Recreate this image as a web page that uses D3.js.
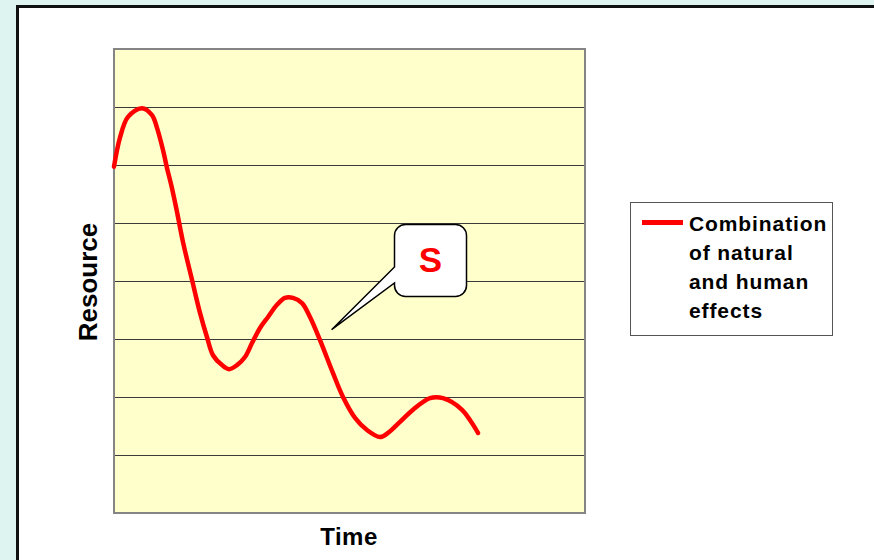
<!DOCTYPE html>
<html><head><meta charset="utf-8">
<script src="https://cdn.jsdelivr.net/npm/d3@7/dist/d3.min.js"></script>
<style>html,body{margin:0;padding:0;background:#ddf4f0;overflow:hidden}svg{display:block}</style>
</head><body>
<svg id="c" width="874" height="560"></svg>
<script>
// Data (time in arbitrary units 0..100, resource in grid units 0..8)
const time = [0,1.27,2.97,5.94,8.07,9.13,10.4,11.25,12.31,13.38,14.65,16.56,18.26,19.75,21.02,22.93,24.42,26.11,27.81,29.3,31.0,32.7,34.61,36.31,38.0,39.92,41.61,43.74,46.5,48.62,51.17,53.72,56.48,58.17,60.72,63.48,67.09,69.85,73.89,77.28];
const resource = [5.97,6.47,6.83,6.98,6.86,6.64,6.26,5.95,5.6,5.19,4.67,4.02,3.45,3.03,2.72,2.55,2.48,2.55,2.69,2.93,3.19,3.38,3.59,3.71,3.71,3.62,3.38,2.98,2.41,2.0,1.64,1.43,1.31,1.38,1.57,1.78,1.98,1.98,1.78,1.38];
const gridValues = [1,2,3,4,5,6,7];
const legendLines = ["Combination","of natural","and human","effects"];
const calloutText = "S";
const calloutAnchor = [46.2, 3.16]; // time, resource where the callout points

const svg = d3.select("#c");
// outer frame
svg.append("rect").attr("x",17.5).attr("y",6.5).attr("width",900).attr("height",600)
  .attr("fill","#fff").attr("stroke","#111").attr("stroke-width",3);

const L=114, R=585, T=49, B=513;
const x = d3.scaleLinear().domain([0,100]).range([L,R]);
const y = d3.scaleLinear().domain([0,8]).range([B,T]);

svg.append("rect").attr("x",L).attr("y",T).attr("width",R-L).attr("height",B-T)
  .attr("fill","#ffffcc");

svg.append("g").attr("transform",`translate(${L},0)`)
  .call(d3.axisLeft(y).tickValues(gridValues).tickSize(-(R-L)).tickFormat(""))
  .call(g=>g.select(".domain").remove())
  .call(g=>g.selectAll(".tick line").attr("stroke","#3a3a3a").attr("stroke-width",1).attr("shape-rendering","crispEdges"));

svg.append("rect").attr("x",L).attr("y",T).attr("width",R-L).attr("height",B-T)
  .attr("fill","none").attr("stroke","#858585").attr("stroke-width",2);

const data = time.map((t,i)=>[t,resource[i]]);
svg.append("path").datum(data)
  .attr("d", d3.line().x(d=>x(d[0])).y(d=>y(d[1])).curve(d3.curveCatmullRom))
  .attr("fill","none").attr("stroke","#ff0000").attr("stroke-width",4.5)
  .attr("stroke-linejoin","round").attr("stroke-linecap","round");

// axis titles
svg.append("text").attr("x",349).attr("y",545).attr("text-anchor","middle")
  .attr("font-family","Liberation Sans, Arial, sans-serif").attr("font-weight","bold")
  .attr("font-size",24).attr("letter-spacing",0.5).attr("fill","#000").text("Time");
svg.append("text").attr("transform","translate(97,282) rotate(-90)").attr("text-anchor","middle")
  .attr("font-family","Liberation Sans, Arial, sans-serif").attr("font-weight","bold")
  .attr("font-size",26).attr("fill","#000").text("Resource");

// callout
const tip=[x(calloutAnchor[0]), y(calloutAnchor[1])];
const bx=394.5, by=224.5, bw=72, bh=72, r=11, p1=267, p2=283;
const path = d3.path();
path.moveTo(bx+r,by);
path.lineTo(bx+bw-r,by); path.arcTo(bx+bw,by,bx+bw,by+r,r);
path.lineTo(bx+bw,by+bh-r); path.arcTo(bx+bw,by+bh,bx+bw-r,by+bh,r);
path.lineTo(bx+r,by+bh); path.arcTo(bx,by+bh,bx,by+bh-r,r);
path.lineTo(bx,p2); path.lineTo(tip[0],tip[1]); path.lineTo(bx,p1);
path.lineTo(bx,by+r); path.arcTo(bx,by,bx+r,by,r);
path.closePath();
svg.append("path").attr("d",path.toString()).attr("fill","#fff").attr("stroke","#000").attr("stroke-width",1.5);
svg.append("text").attr("x",bx+bw/2).attr("y",272).attr("text-anchor","middle")
  .attr("font-family","Liberation Sans, Arial, sans-serif").attr("font-weight","bold")
  .attr("font-size",35).attr("fill","#ff0000").text(calloutText);

// legend
svg.append("rect").attr("x",630.5).attr("y",202.5).attr("width",202).attr("height",133)
  .attr("fill","#fff").attr("stroke","#555").attr("stroke-width",1);
svg.append("line").attr("x1",642).attr("x2",683).attr("y1",222.5).attr("y2",222.5)
  .attr("stroke","#ff0000").attr("stroke-width",5);
svg.append("g").selectAll("text").data(legendLines).join("text")
  .attr("x",689).attr("y",(d,i)=>231+i*29)
  .attr("font-family","Liberation Sans, Arial, sans-serif").attr("font-weight","bold")
  .attr("font-size",21).attr("letter-spacing",0.9).attr("fill","#000").text(d=>d);
</script>
</body></html>
